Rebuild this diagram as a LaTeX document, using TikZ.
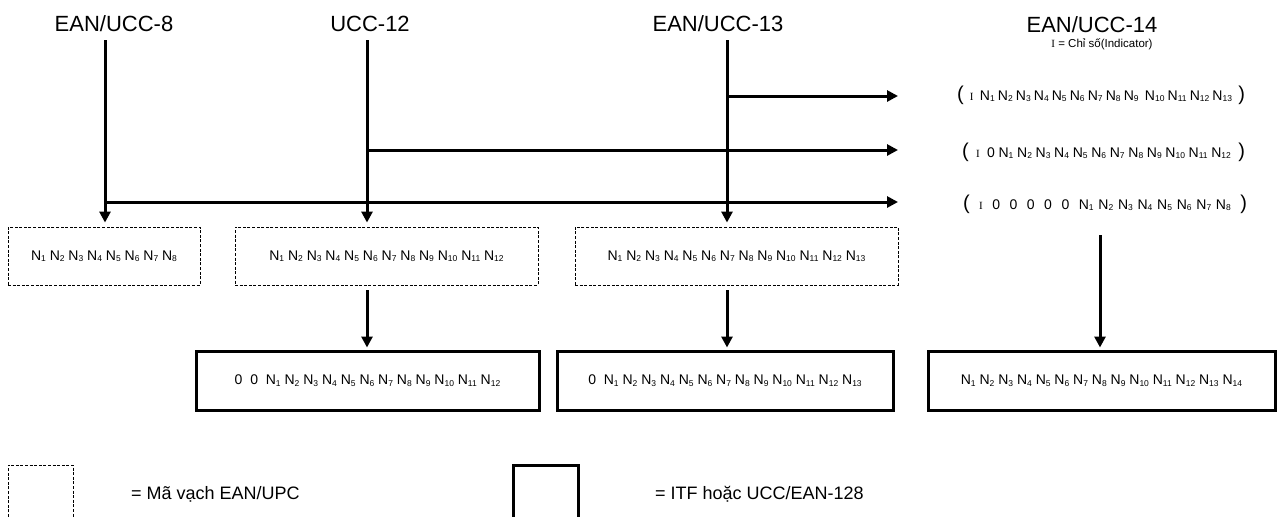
\documentclass[tikz,border=0pt]{standalone}
\usepackage{fontspec}
\setmainfont{Liberation Sans}
\newfontfamily\serI{Liberation Serif}
\usetikzlibrary{arrows.meta}
\newcommand\Nx[1]{N\raisebox{-1.5pt}{\fontsize{8.5}{9}\selectfont #1}}
\newcommand\bp[1]{{\fontsize{20}{22}\selectfont #1}}
\newcommand\sI{{\serI\fontsize{11}{12}\selectfont I}}
\begin{document}
\begin{tikzpicture}[x=1pt,y=-1pt,
  title/.style={font=\fontsize{22}{26}\selectfont, inner sep=0pt, anchor=base},
  row/.style={font=\fontsize{14}{16}\selectfont, inner sep=0pt, anchor=base},
  dbox/.style={draw, dash pattern=on 3pt off 1.6pt, line width=0.9pt, minimum height=58pt, inner sep=0pt, font=\fontsize{14}{16}\selectfont},
  sbox/.style={draw, line width=3pt, minimum height=59pt, inner sep=0pt, font=\fontsize{14}{16}\selectfont},
  arr/.style={line width=3pt, -{Triangle[length=11pt,width=11pt]}},
  legtext/.style={font=\fontsize{18}{21}\selectfont, inner sep=0pt, anchor=base west}]
\useasboundingbox (0,0) rectangle (1278,517);

% titles
\node[title] (t8) at (114,31) {EAN/UCC-8};
\node[title] (t12) at (370,31) {UCC-12};
\node[title] (t13) at (718,31) {EAN/UCC-13};
\node[title] (t14) at (1092,32) {EAN/UCC-14};
\node[inner sep=0pt, anchor=base, font=\fontsize{11.5}{13}\selectfont] (sub) at (1102,47) {\sI{} = Chỉ số(Indicator)};

% rows
\node[row] (r1) at (1101,100) {\makebox[288pt][s]{\bp( \ \sI\ \ \Nx1 \Nx2 \Nx3 \Nx4 \Nx5 \Nx6 \Nx7 \Nx8 \Nx9\ \ \Nx{10} \Nx{11} \Nx{12} \Nx{13} \ \bp)}};
\node[row] (r2) at (1103.5,157) {\makebox[283pt][s]{\bp( \ \sI\ \ 0 \Nx1\ \Nx2\ \Nx3 \Nx4 \Nx5 \Nx6 \Nx7 \Nx8\ \Nx9 \Nx{10} \Nx{11} \Nx{12} \ \bp)}};
\node[row] (r3) at (1105,209) {\makebox[284pt][s]{\bp( \ \sI\ \ 0\ \ 0\ \ 0 \ 0\ \ 0\ \ \Nx1\ \Nx2 \Nx3 \Nx4\ \Nx5 \Nx6 \Nx7\ \Nx8 \ \bp)}};

% dashed boxes
\node[dbox, minimum width=192pt] (d1) at (104,256) {\Nx1 \Nx2 \Nx3 \Nx4 \Nx5 \Nx6 \Nx7 \Nx8};
\node[dbox, minimum width=303pt] (d2) at (386.5,256) {\Nx1 \Nx2 \Nx3 \Nx4 \Nx5 \Nx6 \Nx7 \Nx8 \Nx9 \Nx{10} \Nx{11} \Nx{12}};
\node[dbox, minimum width=323pt] (d3) at (736.5,256) {\Nx1 \Nx2 \Nx3 \Nx4 \Nx5 \Nx6 \Nx7 \Nx8 \Nx9 \Nx{10} \Nx{11} \Nx{12} \Nx{13}};

% solid boxes
\node[sbox, minimum width=343pt] (s1) at (367.5,380.5) {0\ \ 0\ \ \Nx1 \Nx2 \Nx3 \Nx4 \Nx5 \Nx6 \Nx7 \Nx8 \Nx9 \Nx{10} \Nx{11} \Nx{12}};
\node[sbox, minimum width=336pt] (s2) at (725,380.5) {0\ \ \Nx1 \Nx2 \Nx3 \Nx4 \Nx5 \Nx6 \Nx7 \Nx8 \Nx9 \Nx{10} \Nx{11} \Nx{12} \Nx{13}};
\node[sbox, minimum width=347pt] (s3) at (1101.5,380.5) {\Nx1 \Nx2 \Nx3 \Nx4 \Nx5 \Nx6 \Nx7 \Nx8 \Nx9 \Nx{10} \Nx{11} \Nx{12} \Nx{13} \Nx{14}};

% coordinates
\coordinate (v8) at (105,40);
\coordinate (v12) at (367,40);
\coordinate (v13) at (727,40);
\coordinate (h13) at (727,96);
\coordinate (h12) at (367,150);
\coordinate (h8) at (105,202);
\coordinate (e1) at (898,96);
\coordinate (e2) at (898,150);
\coordinate (e3) at (898,202);
\coordinate (v14) at (1100,235);

% vertical arrows to dashed boxes
\draw[arr, shorten >=4pt] (v8) -- (v8 |- d1.north);
\draw[arr, shorten >=4pt] (v12) -- (v12 |- d2.north);
\draw[arr, shorten >=4pt] (v13) -- (v13 |- d3.north);

% horizontal arrows
\draw[arr] (h13) -- (e1);
\draw[arr] (h12) -- (e2);
\draw[arr] (h8) -- (e3);

% arrows dashed -> solid
\draw[arr, shorten <=5pt, shorten >=2pt] (v12 |- d2.south) -- (v12 |- s1.north);
\draw[arr, shorten <=5pt, shorten >=2pt] (v13 |- d3.south) -- (v13 |- s2.north);
\draw[arr, shorten >=2pt] (v14) -- (v14 |- s3.north);

% legend
\draw[dash pattern=on 3pt off 1.6pt, line width=0.9pt] (8,517) |- (73,465) -- (73,517);
\node[legtext] (l1) at (131,499) {= Mã vạch EAN/UPC};
\draw[line width=3pt] (513,517) |- (578,465) -- (578,517);
\node[legtext] (l2) at (655,499) {= ITF hoặc UCC/EAN-128};
\end{tikzpicture}
\end{document}
